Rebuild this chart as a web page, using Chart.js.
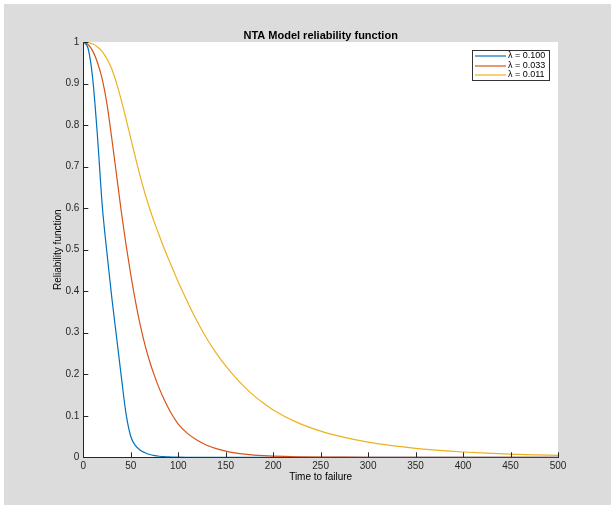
<!DOCTYPE html>
<html>
<head>
<meta charset="utf-8">
<script src="https://cdn.jsdelivr.net/npm/chart.js@4.4.0/dist/chart.umd.min.js"></script>
<style>
html, body { margin: 0; padding: 0; background: #fff; }
canvas { display: block; }
</style>
</head>
<body>
<canvas id="reliabilityChart" width="611" height="510"></canvas>
<script>
// values
const times = [0, 5, 10, 15, 20, 25, 30, 35, 40, 45, 50, 55, 60, 65, 70, 75, 80, 85, 90, 95, 100,
               110, 120, 130, 140, 150, 160, 170, 180, 190, 200,
               225, 250, 275, 300, 325, 350, 375, 400, 425, 450, 475, 500];
const rel100 = [1, 0.985, 0.91, 0.77, 0.605, 0.49, 0.385, 0.29, 0.195, 0.105, 0.05, 0.028, 0.017, 0.011, 0.0067, 0.0041, 0.0025, 0.0015, 0.0009, 0.0006, 0.0003,
                0.0001, 0, 0, 0, 0, 0, 0, 0, 0, 0,
                0, 0, 0, 0, 0, 0, 0, 0, 0, 0, 0, 0];
const rel033 = [1, 0.994, 0.978, 0.95, 0.91, 0.85, 0.768, 0.68, 0.592, 0.512, 0.44, 0.375, 0.318, 0.27, 0.23, 0.196, 0.166, 0.14, 0.117, 0.097, 0.08,
                0.057, 0.041, 0.029, 0.021, 0.015, 0.0107, 0.0076, 0.0054, 0.0039, 0.0028,
                0.0012, 0.0005, 0.0002, 0.0001, 0, 0, 0, 0, 0, 0, 0, 0];
const rel011 = [1, 0.999, 0.995, 0.988, 0.977, 0.959, 0.935, 0.901, 0.86, 0.815, 0.768, 0.721, 0.676, 0.635, 0.598, 0.565, 0.534, 0.504, 0.476, 0.449, 0.422,
                0.373, 0.327, 0.286, 0.251, 0.22, 0.193, 0.169, 0.148, 0.13, 0.114,
                0.084, 0.063, 0.048, 0.0365, 0.028, 0.0215, 0.0166, 0.0128, 0.0099, 0.0077, 0.006, 0.0047];
const seriesLabels = ['\u03bb = 0.100', '\u03bb = 0.033', '\u03bb = 0.011'];
const seriesColors = ['#0072BD', '#D95319', '#EDB120'];
const chartTitle = 'NTA Model reliability function';

const FONT = "'Liberation Sans', Arial, Helvetica, sans-serif";
const AXIS = '#262626';

const toPoints = vals => times.map((t, i) => ({ x: t, y: vals[i] }));

// figure background, title, inward ticks and the boxed legend
const matlabLook = {
    id: 'matlabLook',
    beforeDraw(chart) {
        const { ctx, chartArea: a } = chart;
        ctx.save();
        ctx.fillStyle = '#ffffff';
        ctx.fillRect(0, 0, chart.width, chart.height);
        ctx.fillStyle = '#dcdcdc';
        ctx.fillRect(4, 4, chart.width - 4, chart.height - 9);
        ctx.fillStyle = '#ffffff';
        ctx.fillRect(a.left, a.top, a.right - a.left, a.bottom - a.top);
        ctx.restore();
    },
    afterDraw(chart) {
        const { ctx, chartArea: a, scales } = chart;
        ctx.save();
        // title
        ctx.fillStyle = '#000';
        ctx.font = 'bold 11px ' + FONT;
        ctx.textAlign = 'center';
        ctx.textBaseline = 'middle';
        ctx.fillText(chartTitle, (a.left + a.right) / 2, a.top - 6.5);

        // ticks pointing into the axes
        ctx.strokeStyle = AXIS;
        ctx.lineWidth = 1;
        ctx.beginPath();
        scales.x.ticks.forEach(t => {
            const px = Math.round(scales.x.getPixelForValue(t.value)) + 0.5;
            ctx.moveTo(px, a.bottom);
            ctx.lineTo(px, a.bottom - 5);
        });
        scales.y.ticks.forEach(t => {
            const py = Math.round(scales.y.getPixelForValue(t.value)) + 0.5;
            ctx.moveTo(a.left, py);
            ctx.lineTo(a.left + 5, py);
        });
        ctx.stroke();

        // legend box
        const bx = Math.round(a.right - 86.5), by = Math.round(a.top + 8), bw = 77, bh = 30;
        ctx.fillStyle = '#fff';
        ctx.fillRect(bx, by, bw, bh);
        ctx.strokeStyle = '#333';
        ctx.lineWidth = 1;
        ctx.strokeRect(bx + 0.5, by + 0.5, bw, bh);
        ctx.font = '9px ' + FONT;
        ctx.textAlign = 'left';
        ctx.textBaseline = 'middle';
        chart.data.datasets.forEach((ds, i) => {
            const ry = by + 6 + Math.round(i * 9.6);
            ctx.strokeStyle = seriesColors[i];
            ctx.lineWidth = 1.2;
            ctx.beginPath();
            ctx.moveTo(bx + 3, ry);
            ctx.lineTo(bx + 34, ry);
            ctx.stroke();
            ctx.fillStyle = '#000';
            ctx.fillText(ds.label, bx + 36, ry);
        });
        ctx.restore();
    }
};

new Chart(document.getElementById('reliabilityChart'), {
    type: 'line',
    data: {
        datasets: [
            { label: seriesLabels[0], data: toPoints(rel100), borderColor: seriesColors[0], order: 3 },
            { label: seriesLabels[1], data: toPoints(rel033), borderColor: seriesColors[1], order: 2 },
            { label: seriesLabels[2], data: toPoints(rel011), borderColor: seriesColors[2], order: 1 }
        ]
    },
    options: {
        responsive: false,
        devicePixelRatio: 1,
        animation: false,
        layout: { padding: { top: 42, right: 53, left: 0, bottom: 0 } },
        elements: {
            line: { borderWidth: 1.2, cubicInterpolationMode: 'monotone', fill: false },
            point: { radius: 0 }
        },
        plugins: {
            legend: { display: false },
            title: { display: false },
            tooltip: { enabled: false }
        },
        scales: {
            x: {
                type: 'linear',
                min: 0,
                max: 500,
                ticks: { stepSize: 50, padding: 3, color: AXIS, font: { family: FONT, size: 10 }, maxRotation: 0 },
                grid: { drawOnChartArea: false, drawTicks: false },
                border: { display: true, color: AXIS, width: 1 },
                title: { display: true, text: 'Time to failure', color: '#000', font: { family: FONT, size: 10 }, padding: { top: 0, bottom: 27 } },
                afterFit: s => { s.height = 52.7; }
            },
            y: {
                min: 0,
                max: 1,
                ticks: {
                    stepSize: 0.1, padding: 4, color: AXIS, font: { family: FONT, size: 10 },
                    callback: v => String(Math.round(v * 10) / 10)
                },
                grid: { drawOnChartArea: false, drawTicks: false },
                border: { display: true, color: AXIS, width: 1 },
                title: { display: true, text: 'Reliability function', color: '#000', font: { family: FONT, size: 10 }, padding: { top: 52, bottom: 0 } },
                afterFit: s => { s.width = 83.3; }
            }
        }
    },
    plugins: [matlabLook]
});
</script>
</body>
</html>
